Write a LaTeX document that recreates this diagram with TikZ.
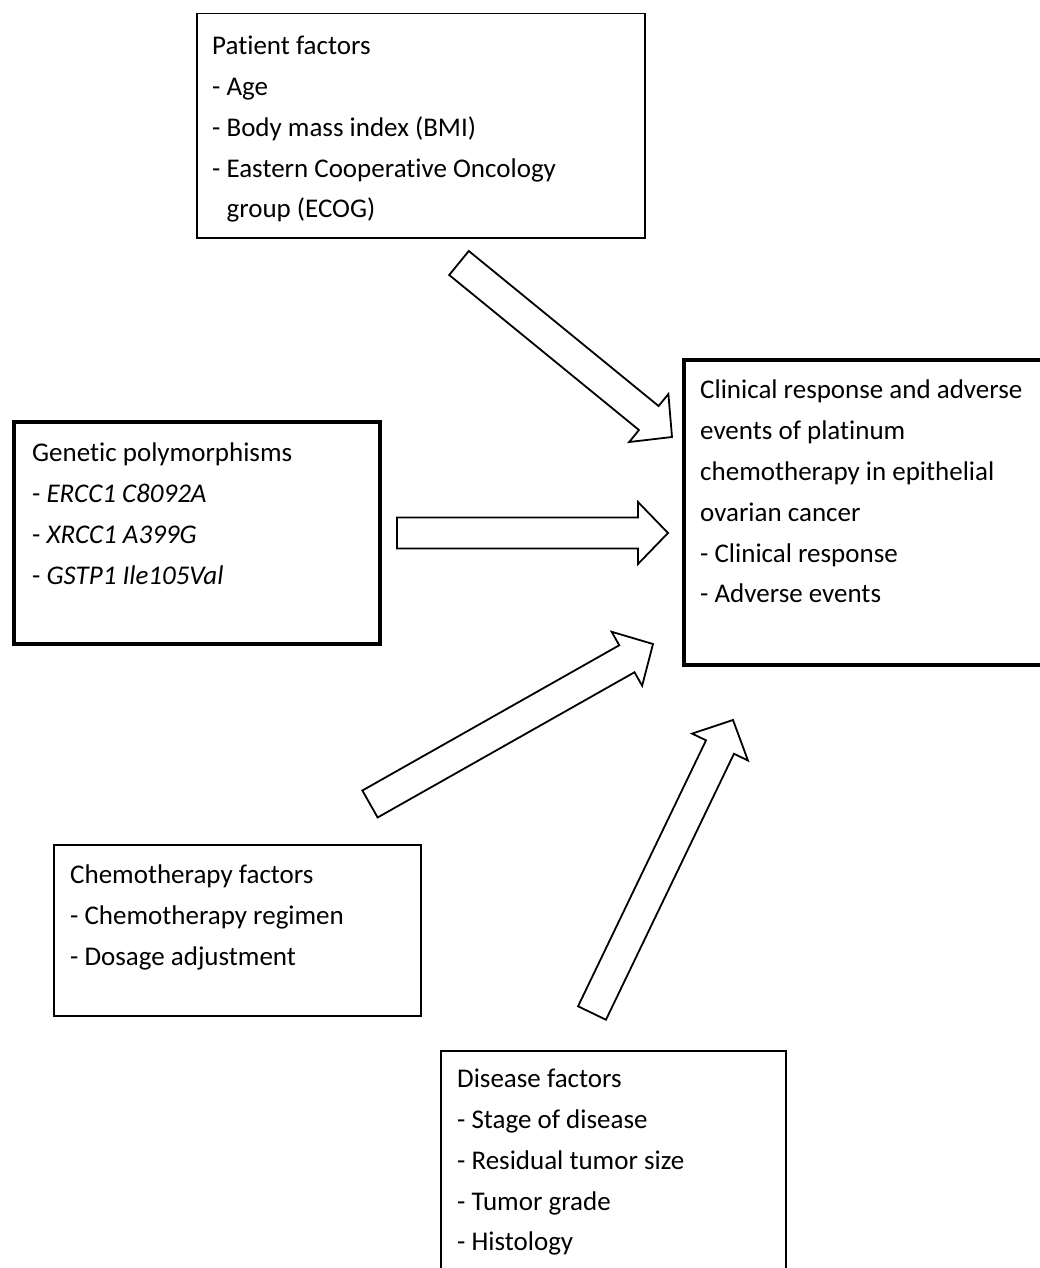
\documentclass[tikz,border=0pt]{standalone}
\usepackage{fontspec}
\setmainfont[Ligatures=NoCommon]{Carlito}
\usetikzlibrary{calc}

\tikzset{
  thinbox/.style={draw, line width=1.5pt, anchor=north west, inner sep=0pt},
  thickbox/.style={draw, line width=3.5pt, anchor=north west, inner sep=0pt},
  boxtext/.style={anchor=north west, align=left, inner sep=0pt, font=\fontsize{27}{40.8}\selectfont},
  fatline/.style={draw, line width=1.8pt, fill=white, line join=miter}
}
\newcommand{\blockarrow}[2]{%
  \coordinate (ah) at ($(#2)!30pt!(#1)$);
  \draw[fatline] ($(#1)!15.5pt!90:(#2)$) -- ($(ah)!15.5pt!90:(#2)$) -- ($(ah)!31pt!90:(#2)$) -- (#2)
    -- ($(ah)!31pt!-90:(#2)$) -- ($(ah)!15.5pt!-90:(#2)$) -- ($(#1)!15.5pt!-90:(#2)$) -- cycle;
}

\begin{document}
\begin{tikzpicture}[x=1pt, y=-1pt]
\useasboundingbox (0,0) rectangle (1040,1268);

% boxes
\node[thinbox, minimum width=448pt, minimum height=224pt] (patient) at (196,13) {};
\node[thickbox, minimum width=366pt, minimum height=222pt] (genetic) at (12,420) {};
\node[thickbox, minimum width=370pt, minimum height=305pt] (outcome) at (682,358) {};
\node[thinbox, minimum width=367pt, minimum height=171pt] (chemo) at (53,844) {};
\node[thinbox, minimum width=345pt, minimum height=240pt] (disease) at (440,1050) {};

% texts
\node[boxtext] (patienttxt) at (212,36) {Patient factors\\- Age\\- Body mass index (BMI)\\- Eastern Cooperative Oncology\\\phantom{- }group (ECOG)};
\node[boxtext] (genetictxt) at (32,443) {Genetic polymorphisms\\- \textit{ERCC1 C8092A}\\- \textit{XRCC1 A399G}\\- \textit{GSTP1 Ile105Val}};
\node[boxtext] (outcometxt) at (700,380) {Clinical response and adverse\\events of platinum\\chemotherapy in epithelial\\ovarian cancer\\- Clinical response\\- Adverse events};
\node[boxtext] (chemotxt) at (70,865) {Chemotherapy factors\\- Chemotherapy regimen\\- Dosage adjustment};
\node[boxtext] (diseasetxt) at (457,1069) {Disease factors\\- Stage of disease\\- Residual tumor size\\- Tumor grade\\- Histology};

% arrows
\coordinate (patienttail) at (459,263);
\coordinate (patienttip) at (672,437);
\coordinate (genetictail) at (397,533);
\coordinate (genetictip) at (668,533);
\coordinate (chemotail) at (370,804);
\coordinate (chemotip) at (653,644);
\coordinate (diseasetail) at (592,1013);
\coordinate (diseasetip) at (733,720);
\blockarrow{patienttail}{patienttip}
\blockarrow{genetictail}{genetictip}
\blockarrow{chemotail}{chemotip}
\blockarrow{diseasetail}{diseasetip}
\end{tikzpicture}
\end{document}
